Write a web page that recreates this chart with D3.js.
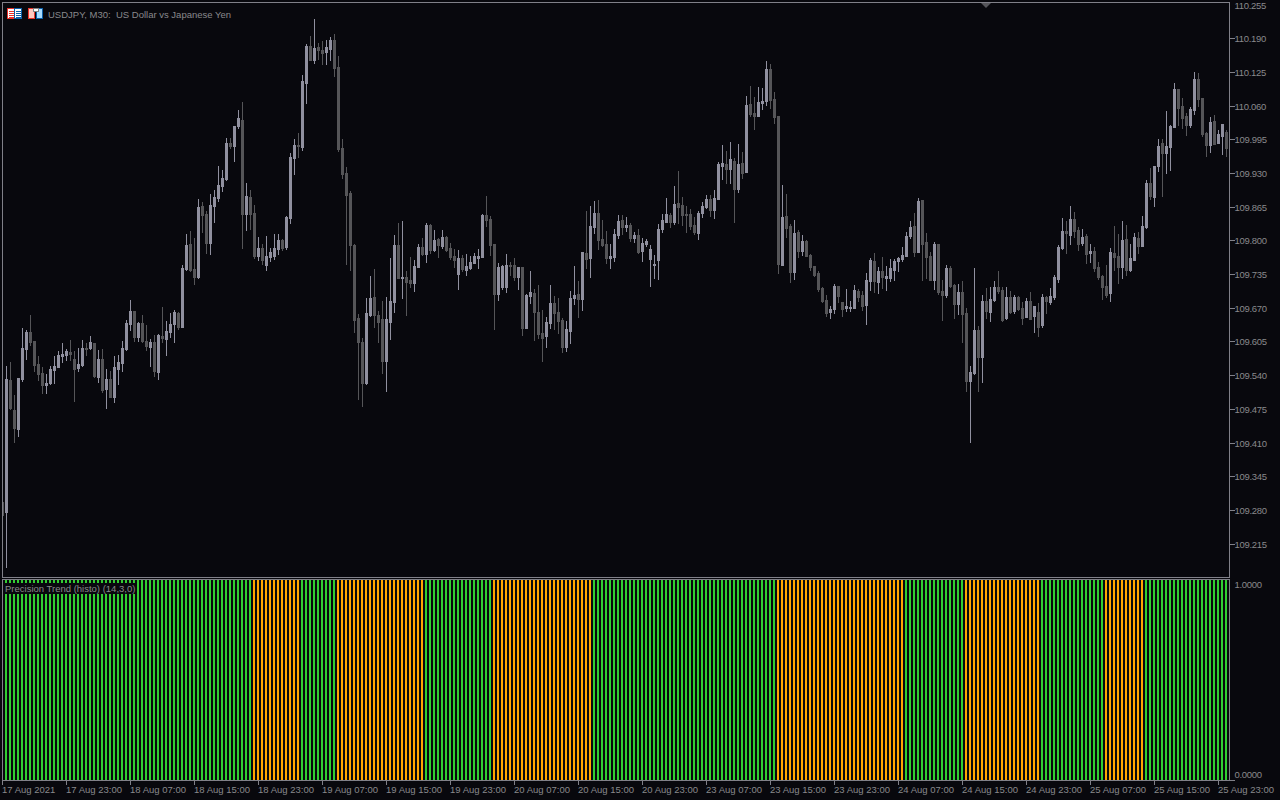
<!DOCTYPE html>
<html><head><meta charset="utf-8">
<script src="https://cdn.jsdelivr.net/npm/d3@7/dist/d3.min.js"></script>
<style>
html,body{margin:0;padding:0;background:#08080d;overflow:hidden}
svg{display:block}
text{font-family:"Liberation Sans",sans-serif;font-size:9.5px;fill:#88888c;white-space:pre}
</style></head><body>
<script>
// Quotes are stored as thousandths above this base price.
const basePrice = 109;
const firstBar = -1;
const highs = [296,
559,566,503,535,632,628,657,607,578,557,
543,559,578,588,603,591,609,588,593,609,
603,617,603,590,591,553,549,578,580,607,
647,686,665,644,657,638,611,618,620,672,
645,661,667,663,754,813,819,806,881,875,
858,891,898,945,937,999,999,1022,1053,1068,
912,898,869,808,794,810,786,813,813,804,
848,970,997,1008,1120,1180,1196,1228,1182,1186,
1188,1194,1199,1157,997,943,896,794,659,613,
690,732,746,665,684,692,767,811,835,838,
742,769,763,794,806,835,833,821,806,821,
810,796,784,783,773,775,771,777,784,852,
887,848,794,757,754,775,759,767,750,750,
698,742,707,715,667,653,715,694,690,651,
645,703,752,723,779,858,867,877,879,840,
819,794,823,850,850,846,835,817,823,806,
804,792,773,833,852,883,854,906,935,885,
867,862,846,858,875,889,889,898,952,985,
974,991,960,987,972,1080,1099,1078,1097,1095,
1147,1141,1087,1041,908,891,833,840,821,811,
802,775,752,742,711,696,674,717,713,682,
707,684,715,707,703,738,767,777,750,769,
752,765,765,769,788,817,838,854,883,879,
815,779,798,794,725,754,752,717,717,723,
671,559,748,636,696,709,711,723,742,711,
711,703,696,694,682,690,701,674,680,698,
694,709,734,792,844,838,867,856,827,823,
813,794,788,759,734,754,786,829,813,838,
831,794,815,817,848,918,941,945,997,997,
1051,1024,1105,1093,1076,1047,1058,1126,1124,1076,
1010,1039,1043,1014,1026,1014];
const bodyHighs = [296,
534,532,474,535,593,624,624,607,562,545,
526,553,559,580,582,588,586,572,562,593,
593,605,603,572,572,534,534,557,566,593,
642,665,665,642,642,607,605,605,618,617,
626,640,663,661,748,792,794,746,865,867,
852,869,885,908,921,989,989,1022,1037,1033,
887,885,854,786,786,771,779,786,802,802,
846,962,985,985,1109,1176,1176,1172,1174,1169,
1174,1188,1188,1136,979,931,893,792,651,605,
661,690,692,657,649,649,684,792,792,730,
730,725,752,788,788,831,831,802,804,808,
808,786,771,767,767,752,759,771,771,850,
850,842,794,750,752,754,754,754,750,750,
696,701,700,663,622,644,680,680,663,647,
630,690,696,698,779,777,829,854,854,804,
794,771,813,838,840,831,831,811,811,796,
800,784,755,823,840,852,850,871,873,869,
852,852,831,854,867,881,881,883,948,950,
948,958,954,948,950,1062,1064,1047,1068,1070,
1132,1132,1074,1041,846,848,829,815,817,800,
800,773,752,738,709,686,669,713,713,682,
674,672,705,703,696,725,763,761,742,742,
732,748,761,767,773,810,827,829,877,879,
798,771,794,794,703,748,748,715,701,701,
661,547,628,628,684,684,688,711,711,705,
692,692,692,692,671,684,684,674,663,692,
692,694,730,788,819,819,842,842,821,808,
810,781,781,750,732,713,779,777,771,802,
804,767,808,806,829,912,912,945,983,989,
983,1022,1093,1093,1060,1041,1055,1113,1113,1076,
1008,1030,1031,1006,1026,1010];
const bodyLows = [271,
277,478,439,437,534,591,605,561,543,522,
522,526,551,557,578,580,582,553,555,561,
591,593,539,537,512,514,499,499,553,564,
591,640,615,615,607,597,595,549,547,613,
611,624,640,634,634,746,744,730,730,850,
796,796,867,883,906,920,983,983,1022,852,
852,852,771,771,763,754,769,771,784,786,
788,844,960,983,981,1105,1149,1149,1169,1163,
1165,1170,1134,977,929,889,792,647,605,526,
526,657,657,644,568,568,644,682,728,728,
721,719,719,750,775,775,783,783,792,790,
783,769,763,736,746,744,748,757,767,769,
840,792,698,698,711,711,752,730,730,632,
632,694,663,620,613,617,642,661,645,595,
595,626,690,688,688,765,767,827,802,792,
767,767,769,811,827,827,806,806,779,781,
794,765,754,763,823,837,837,837,865,850,
850,829,817,815,854,865,860,860,881,945,
939,939,900,900,931,933,1045,1041,1041,1066,
1070,1072,1039,755,754,825,740,740,781,781,
771,750,734,707,684,661,663,669,694,669,
671,671,671,692,674,676,723,723,721,730,
728,728,744,761,765,771,810,779,779,794,
769,725,725,701,696,696,713,678,678,659,
530,530,545,576,576,665,663,686,703,647,
651,663,665,669,651,653,649,655,634,638,
684,682,692,727,786,815,811,819,794,796,
775,777,748,730,711,696,700,769,750,750,
744,744,763,790,790,827,887,885,945,970,
970,981,1020,1057,1037,1024,1024,1053,1074,1006,
985,985,987,989,1003,979];
const lows = [271,
171,476,412,424,530,572,599,549,532,507,
507,524,526,557,566,570,570,491,549,559,
580,591,537,528,508,478,499,489,524,549,
590,628,607,607,605,590,559,539,534,605,
580,615,605,630,634,744,742,717,728,817,
777,775,837,877,896,918,979,954,1018,786,
821,823,767,763,755,744,761,765,775,783,
784,835,929,962,976,1066,1149,1143,1151,1141,
1141,1149,1118,974,921,755,744,624,495,481,
524,655,634,605,545,510,611,663,728,690,
657,711,703,750,773,759,777,781,769,786,
781,765,750,707,742,734,746,757,748,769,
829,773,630,686,707,701,734,725,707,618,
632,680,609,613,568,595,632,630,622,586,
588,603,678,653,667,748,730,815,784,790,
757,748,761,806,813,819,800,798,777,761,
790,713,728,727,817,837,827,833,835,831,
817,823,813,804,846,864,848,844,881,920,
912,912,837,894,921,933,1041,1016,1041,1055,
1062,1057,1028,738,754,808,721,727,769,773,
771,744,732,703,682,655,651,661,682,655,
665,665,671,684,667,640,705,701,700,709,
705,723,725,742,761,771,806,771,779,725,
728,725,707,698,647,692,711,651,659,605,
510,412,543,510,528,651,645,684,700,645,
649,661,661,667,640,653,649,624,617,634,
661,678,688,721,784,777,794,808,783,792,
757,759,742,727,688,692,684,744,719,728,
734,742,763,777,790,825,881,867,935,887,
931,937,1020,1024,1018,1004,1020,1045,1060,1003,
964,972,987,989,968,964];
const directions = ("D " +
"U D D U U U D D D D " +
"U U U U U U D D U U " +
"D U D U D U D U U U " +
"U U D U D D U D U D " +
"U U U D U U D D U D " +
"D U U U U U D U U D " +
"U D D U D U U U U D " +
"U U U D U U D U D D " +
"U U D D D D D D D D " +
"U U D D D U U U D U " +
"D D U U D U D U D U " +
"D D D U D U U U U U " +
"D D D U U U D D U D " +
"U U D D D U U D D D " +
"U U U D U D U U D D " +
"D U U U D U D U D U " +
"U U U U U U D U D D " +
"D D D U U U D U U U " +
"D U D U D U D D U U " +
"U D D D U D D U D U " +
"D D D D D D U U D D " +
"U U U D D U U D U D " +
"U U U U U U U D U D " +
"D D U D D U D D U D " +
"D U U D U D U U D D " +
"U D U D D U D U D U " +
"D U U U U D U D D U " +
"D U D D D D U D D U " +
"D U U D U U D U U D " +
"U U U D D D U U D D " +
"D U D U U D").split(" ");

const priceTicks = [110.255,110.190,110.125,110.060,109.995,109.930,109.865,109.800,109.735,109.670,109.605,109.540,109.475,109.410,109.345,109.280,109.215];
const trendRunLengths = [62,12,9,22,17,25,46,32,15,19,16,10,21];
const trendRunNames = ["up","down","up","down","up","down","up","down","up","down","up","down","up"];
const trendValueTicks = [1,0];
const timeTickBars = [-1,15,31,47,63,79,95,111,127,143,159,175,191,207,223,239,255,271,287,303];
const timeTickLabels = ["17 Aug 2021","17 Aug 23:00","18 Aug 07:00","18 Aug 15:00","18 Aug 23:00","19 Aug 07:00","19 Aug 15:00","19 Aug 23:00","20 Aug 07:00","20 Aug 15:00","20 Aug 23:00","23 Aug 07:00","23 Aug 15:00","23 Aug 23:00","24 Aug 07:00","24 Aug 15:00","24 Aug 23:00","25 Aug 07:00","25 Aug 15:00","25 Aug 23:00"];
const chartTitle = "USDJPY, M30:  US Dollar vs Japanese Yen";
const indicatorTitle = "Precision Trend (histo) (14,3,0)";

const C = {bg:"#08080d",frame:"#808088",text:"#88888c",up:"#90909f",down:"#555558",green:"#32cd32",orange:"#ffa500"};

const candles = highs.map((h,i)=>({bar:firstBar+i,high:basePrice+h/1000,top:basePrice+bodyHighs[i]/1000,bottom:basePrice+bodyLows[i]/1000,low:basePrice+lows[i]/1000,dir:directions[i]}));
const trend = trendRunLengths.flatMap((n,r)=>d3.range(n).map(()=>trendRunNames[r])).map((state,i)=>({bar:i,state,value:1}));

const L={x0:2,x1:1229,top:2,mainBottom:577,subTop:579,subBottom:780};
const svg=d3.select("body").append("svg").attr("width",1280).attr("height",800).attr("shape-rendering","crispEdges");
svg.append("rect").attr("width",1280).attr("height",800).attr("fill",C.bg);

const x=d3.scaleLinear().domain([-1,305]).range([2,1226]);
const y=d3.scaleLinear().domain([110.255,109.215]).range([5.18,544.04]);
const yT=d3.scaleLinear().domain([0,1]).range([780,580]);
const py=v=>Math.round(y(v));

svg.append("defs").append("clipPath").attr("id","mainClip").append("rect")
  .attr("x",L.x0).attr("y",L.top).attr("width",L.x1-L.x0).attr("height",L.mainBottom-L.top);

// histogram
svg.append("g").selectAll("rect").data(trend).join("rect")
  .attr("x",d=>x(d.bar)-1).attr("width",2)
  .attr("y",d=>yT(d.value)).attr("height",d=>yT(0)-yT(d.value))
  .attr("fill",d=>d.state==="up"?C.green:C.orange);

// candles
const gc=svg.append("g").attr("clip-path","url(#mainClip)");
gc.selectAll("rect.w").data(candles).join("rect").attr("class","w")
  .attr("x",d=>x(d.bar)).attr("width",1)
  .attr("y",d=>py(d.high)).attr("height",d=>py(d.low)-py(d.high)+1)
  .attr("fill",d=>d.dir==="U"?C.up:C.down);
gc.selectAll("rect.b").data(candles).join("rect").attr("class","b")
  .attr("x",d=>x(d.bar)-1).attr("width",3)
  .attr("y",d=>py(d.top)).attr("height",d=>Math.max(1,py(d.bottom)-py(d.top)+1))
  .attr("fill",d=>d.dir==="U"?C.up:C.down);

// frames
const frame=(a,b)=>svg.append("rect").attr("x",L.x0+.5).attr("y",a+.5).attr("width",L.x1-L.x0).attr("height",b-a).attr("fill","none").attr("stroke",C.frame);
frame(L.top,L.mainBottom); frame(L.subTop,L.subBottom);

// price axis
const ay=svg.append("g").attr("transform",`translate(${L.x1+.5},0)`)
  .call(d3.axisRight(y).tickValues(priceTicks).tickFormat(d3.format(".3f")).tickSize(5).tickPadding(0));
ay.select(".domain").remove();
ay.selectAll(".tick").filter(d=>d===110.255).select("line").remove();
ay.selectAll(".tick").attr("transform",d=>`translate(0,${Math.floor(y(d))+.5})`);
ay.selectAll("line").attr("stroke",C.frame);
ay.selectAll("text").attr("font-family",null).attr("font-size",null).style("fill",C.text).attr("letter-spacing","-.3").attr("y",.6);

// trend axis
const at=svg.append("g").attr("transform",`translate(${L.x1+.5},0)`)
  .call(d3.axisRight(yT).tickValues(trendValueTicks).tickFormat(d3.format(".4f")).tickSize(5).tickPadding(0));
at.select(".domain").remove();
at.selectAll("line").attr("stroke",C.frame);
at.selectAll(".tick").filter(d=>d===1).select("line").remove();
at.selectAll("text").attr("font-family",null).attr("font-size",null).style("fill",C.text).attr("letter-spacing","-.3")
  .attr("dy","0.32em").attr("y",d=>d===1?4:-6);

// time axis
const ticksG=svg.append("g");
const tick=ticksG.selectAll("g").data(timeTickBars).join("g").attr("transform",d=>`translate(${x(d)+.5},${L.subBottom+.5})`);
tick.append("line").attr("y2",4).attr("stroke",C.frame);
tick.append("text").attr("x",-.5).attr("y",12.5).text((d,i)=>timeTickLabels[i]);

// labels
svg.append("rect").attr("x",5).attr("y",583).attr("width",131).attr("height",11).attr("fill",C.bg);
svg.append("text").attr("x",5).attr("y",592).text(indicatorTitle);
svg.append("text").attr("x",48).attr("y",18).text(chartTitle);

// header icons
const ic=svg.append("g");
const r=(x,y,w,h,f,s)=>ic.append("rect").attr("x",x).attr("y",y).attr("width",w).attr("height",h).attr("fill",f).attr("stroke",s||"none");
r(7.5,8.5,7,10,"#ffffff","#e8322a"); r(14.5,8.5,7,10,"#ffffff","#0a5fa8");
[10,12,14,16].forEach(t=>{r(9,t+.5,5,1,"#e8322a");r(16,t+.5,5,1,"#0a5fa8");});
r(28.5,8.5,6,10,"#ffc8c0","#e8322a"); r(36.5,8.5,6,10,"#a8dcff","#0a5fa8");
r(33.5,8.5,5,3,"#ffffff","#808080");

// scroll marker
svg.append("path").attr("d",d3.line()([[981,3],[991,3],[986,8]])+"Z").attr("fill","#55555a").attr("shape-rendering","auto");
</script>
</body></html>
